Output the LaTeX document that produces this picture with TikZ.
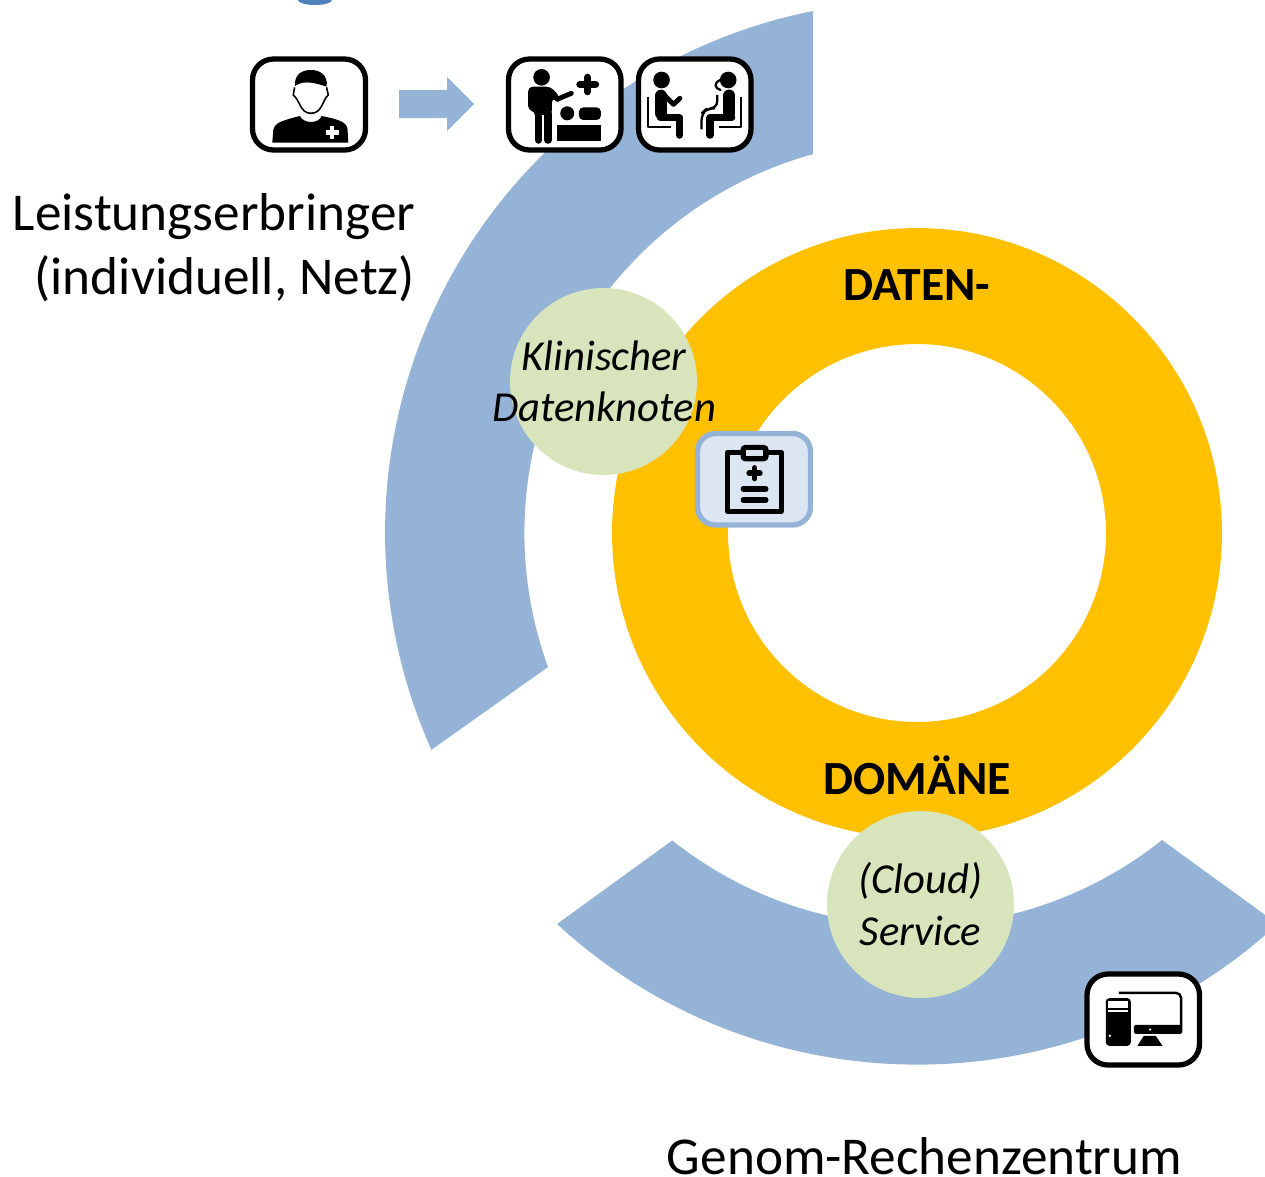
\documentclass[tikz,border=0pt]{standalone}
\usepackage{fontspec}
\setmainfont{Carlito}
\definecolor{bluearc}{HTML}{95B3D7}
\definecolor{ringor}{HTML}{FFC000}
\definecolor{nodegreen}{HTML}{D8E4BC}
\definecolor{clipfill}{HTML}{DCE6F2}
\definecolor{topblue}{HTML}{4F81BD}
\tikzset{
  iconframe/.style={draw=black,fill=white,line width=3pt,rounded corners=0.42cm},
  bigtext/.style={font=\fontsize{30.3}{36}\selectfont,inner sep=0,anchor=base},
  boldtext/.style={font=\fontsize{27.1}{30}\selectfont\bfseries,inner sep=0,anchor=base},
  italtext/.style={font=\fontsize{24.3}{28}\selectfont\itshape,inner sep=0,anchor=base},
  greencircle/.style={circle,fill=nodegreen,minimum size=3.74cm,inner sep=0},
  crop/.style={shift={#1},x=0.006667cm,y=-0.006667cm},
  chairline/.style={line width=1.3pt,draw=black,line join=round},
  limb/.style={line width=4.3pt,draw=black,line cap=round,line join=round},
  armline/.style={line width=2.8pt,draw=black,line cap=round,line join=round},
  plusline/.style={line width=4.1pt,draw=black,line cap=round},
}
\begin{document}
\begin{tikzpicture}[x=0.02cm,y=0.02cm]
\useasboundingbox (0,-1177) rectangle (1265,0);
\clip (0,-1177) rectangle (1265,0);
\fill[topblue] (315,0) ellipse (17 and 5);
% blue arcs
\fill[bluearc] (813,-11) arc[start angle=101.27,end angle=204.1,radius=10.64cm]
  -- (548,-667) arc[start angle=199.95,end angle=105.38,radius=7.86cm] -- cycle;
\fill[bluearc] (557,-924) arc[start angle=227.36,end angle=312.64,radius=10.64cm]
  -- (1162,-840) arc[start angle=308.6,end angle=231.5,radius=7.86cm] -- cycle;
% ring
\fill[ringor,even odd rule] (917,-533) circle[radius=6.1cm] (917,-533) circle[radius=3.78cm];
% green circles
\node[greencircle] (klin) at (603.5,-381.5) {};
\node[greencircle] (cloud) at (920.5,-904.5) {};
\node[italtext] (klintext1) at (604,-370) {Klinischer};
\node[italtext] (klintext2) at (604,-421) {Datenknoten};
\node[italtext] (cloudtext1) at (920.5,-893) {(Cloud)};
\node[italtext] (cloudtext2) at (920.5,-945) {Service};
\node[boldtext] (daten) at (917,-300) {DATEN-};
\node[boldtext] (domaene) at (917,-794.5) {DOMÄNE};
\node[bigtext,anchor=base east] (leist1) at (415.5,-230) {Leistungserbringer};
\node[bigtext,anchor=base east] (leist2) at (415.5,-294) {(individuell, Netz)};
\node[bigtext] (genom) at (924.5,-1174) {Genom-Rechenzentrum};
% frames
\draw[iconframe] (252.5,-59) rectangle (365.5,-150);
\draw[iconframe] (508.5,-59) rectangle (621,-150);
\draw[iconframe] (638.5,-59) rectangle (751,-150);
\draw[iconframe] (1087,-974) rectangle (1199.5,-1065);
% arrow
\fill[bluearc] (399,-90) -- (447,-90) -- (447,-77) -- (474,-104) -- (447,-131) -- (447,-118) -- (399,-118) -- cycle;
% doctor
\begin{scope}[crop={(4.9cm,-1cm)}]
 \fill (150,108) .. controls (148,72) and (172,60) .. (198,60) .. controls (225,60) and (250,75) .. (245,110)
   .. controls (215,100) and (180,90) .. (155,105) -- cycle;
 \draw[line width=0.9pt] (149,112) -- (145,135) .. controls (165,150) and (165,190) .. (198,190)
   .. controls (232,190) and (232,150) .. (250,135) -- (245,112);
 \fill (82,278) -- (85,240) .. controls (90,218) and (110,212) .. (165,198)
   .. controls (175,222) and (222,222) .. (230,198) .. controls (290,210) and (306,218) .. (308,240) -- (310,278) -- cycle;
 \draw[white,line width=2.5pt] (242,247) -- (282,247) (262,228) -- (262,266);
\end{scope}
% practitioner
\begin{scope}[crop={(10cm,-1cm)}]
 \fill (125,82) circle[radius=25];
 \fill[rounded corners=2.5pt] (85,182) -- (85,110) -- (152,110) -- (180,140) -- (180,160) -- (156,143) -- (156,195) -- (105,195) -- (105,182) -- cycle;
 \draw[armline] (172,148) -- (214,130);
 \draw[limb] (116,190) -- (116,270) (144,190) -- (144,270);
 \draw[plusline] (240,103) -- (287,103) (263,82) -- (263,125);
 \fill (172,225) rectangle (303,273);
 \fill[rounded corners=2.5pt] (237,172) -- (303,172) -- (303,210) -- (237,210) -- cycle;
 \fill (202,190) circle[radius=21];
\end{scope}
% two seated persons
\begin{scope}[crop={(12.6cm,-1cm)}]
 \fill (95,90) circle[radius=25];
 \draw[line width=6.8pt,line cap=round,line join=round] (93,137) -- (93,190);
 \draw[limb] (92,203) -- (149,203) -- (149,255);
 \draw[armline] (100,132) -- (131,163) -- (150,145);
 \draw[chairline] (55,140) -- (55,232) -- (122,232);
 \fill (295,90) circle[radius=25];
 \draw[line width=1.3pt,line cap=round] (271,90) .. controls (250,100) and (255,115) .. (272,120);
 \draw[line width=7pt,line cap=round,line join=round] (298,137) -- (298,190);
 \draw[limb] (305,203) -- (241,203) -- (241,255);
 \draw[chairline] (333,140) -- (333,232) -- (268,232);
 \draw[chairline,rounded corners=4pt] (262,135) -- (262,175) -- (232,175) -- (215,190) -- (215,238);
\end{scope}
% clipboard
\draw[draw=bluearc,fill=clipfill,line width=3pt,rounded corners=0.36cm] (697.5,-433.5) rectangle (810.5,-525);
\begin{scope}[crop={(13.6cm,-8.4cm)}]
 \draw[line width=2.65pt,line join=round] (143,97) rectangle (304,275);
 \fill[rounded corners=2.5pt] (182,75) rectangle (266,124);
 \fill[clipfill] (197,90) rectangle (248,108);
 \draw[line width=3.2pt,line cap=round] (208,160) -- (240,160) (224,144) -- (224,176);
 \draw[line width=3pt,line cap=round] (190,207) -- (258,207) (190,240) -- (258,240);
\end{scope}
% computer
\begin{scope}[crop={(21.4cm,-19.2cm)}]
 \fill[rounded corners=2pt] (108,115) rectangle (183,258);
 \fill[white] (115,125) rectangle (175,145);
 \fill[white] (115,152) rectangle (175,158);
 \fill[white] (120,228) circle[radius=4];
 \draw[line width=1.4pt,rounded corners=3pt] (147,99) -- (334,99) -- (334,200);
 \fill[rounded corners=1pt] (192,195) rectangle (338,222);
 \fill[white] (241,209) circle[radius=4];
 \fill (222,228) -- (258,228) -- (278,258) -- (203,258) -- cycle;
\end{scope}
\end{tikzpicture}
\end{document}
